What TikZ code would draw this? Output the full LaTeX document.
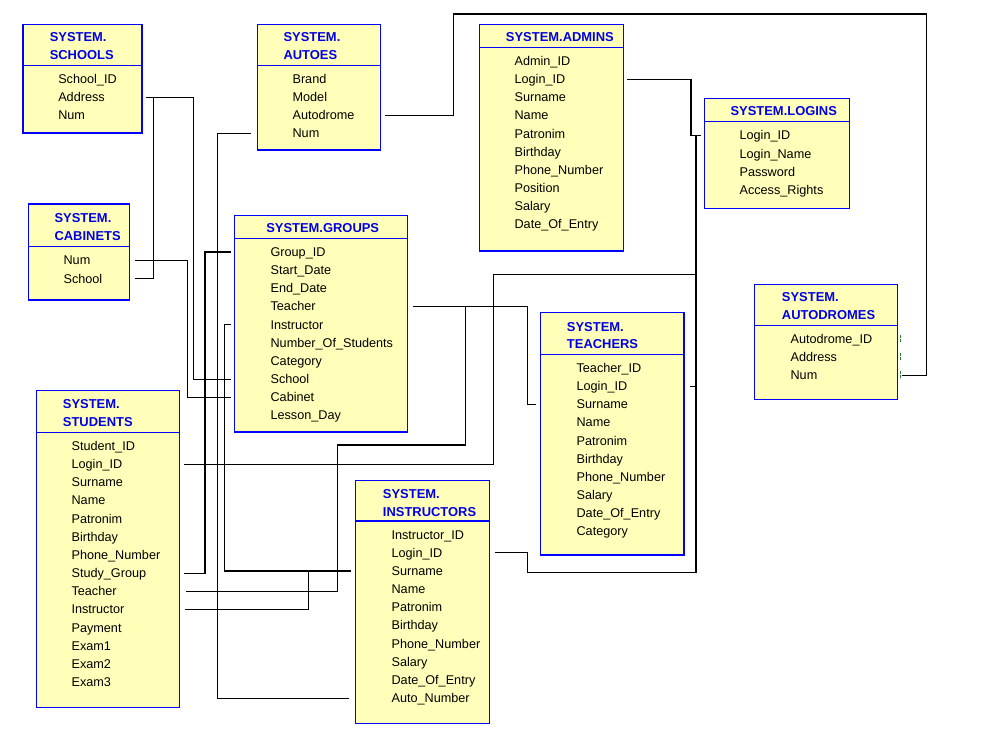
\documentclass[tikz,border=0pt]{standalone}
\usepackage{fontspec}
\setmainfont{Liberation Sans}
\usetikzlibrary{calc,fit}

\definecolor{erfill}{RGB}{255,255,185}
\definecolor{erblue}{RGB}{0,0,255}
\definecolor{ertitle}{RGB}{0,0,230}
\definecolor{erkey}{RGB}{40,130,40}

\tikzset{
  entity/.style={draw=erblue, fill=erfill, line width=1.1pt, inner sep=0pt, rectangle},
  entity rule/.style={draw=erblue, line width=1pt},
  field/.style={font=\fontsize{9.5}{11}\selectfont, inner sep=0pt, anchor=west,
                text height=6.8pt, text depth=0pt},
  title/.style={field, font=\fontsize{9.7}{11}\selectfont\bfseries, text=ertitle},
  link/.style={draw=black, line width=0.8pt},
  keytick/.style={draw=erkey, line width=0.8pt, dash pattern=on 2pt off 1pt},
}

% table frame: name, left, top, right, bottom, header rule
\newcommand\erbox[6]{%
  \node[entity, fit={(#2,#3) (#4,#5)}] (#1) {};
  \draw[entity rule] (#2,#6) -- (#4,#6);
}
% title lines: name, x, first y, lines
\newcommand\ertitle[4]{%
  \foreach \ttl [count=\idx] in {#4}
    \node[title] (#1-title\idx) at (#2,{#3+17.7*(\idx-1)}) {\ttl};
}
% column rows: name, x, first y, fields
\newcommand\erfields[4]{%
  \foreach \fld [count=\idx] in {#4}
    \node[field] (#1-\idx) at (#2,{#3+18.15*(\idx-1)}) {\fld};
}

\begin{document}
\begin{tikzpicture}[x=0.75pt,y=-0.75pt]
\useasboundingbox[fill=white] (0,0) rectangle (988,745);

% ---- tables ----
\erbox{sch}{23}{24.3}{142}{133}{65.3}
\ertitle{sch}{49.5}{37}{SYSTEM.,SCHOOLS}
\erfields{sch}{58}{79}{School\_ID,Address,Num}

\erbox{cab}{28.3}{204}{129.3}{300}{246.7}
\ertitle{cab}{54.3}{218}{SYSTEM.,CABINETS}
\erfields{cab}{63.3}{260.4}{Num,School}

\erbox{aut}{257.3}{24.3}{380.3}{150}{65.3}
\ertitle{aut}{283.3}{37}{SYSTEM.,AUTOES}
\erfields{aut}{292.3}{79}{Brand,Model,Autodrome,Num}

\erbox{adm}{479.3}{24.3}{623.3}{251}{47.3}
\ertitle{adm}{505.7}{36.7}{SYSTEM.ADMINS}
\erfields{adm}{514.3}{61}{Admin\_ID,Login\_ID,Surname,Name,Patronim,Birthday,Phone\_Number,Position,Salary,Date\_Of\_Entry}

\erbox{log}{704.3}{98.3}{849.3}{208.3}{121.7}
\ertitle{log}{730.3}{110.7}{SYSTEM.LOGINS}
\erfields{log}{739.3}{135.4}{Login\_ID,Login\_Name,Password,Access\_Rights}

\erbox{adr}{754.3}{284.3}{897.7}{399.3}{325.3}
\ertitle{adr}{781.7}{297.3}{SYSTEM.,AUTODROMES}
\erfields{adr}{790.3}{339}{Autodrome\_ID,Address,Num}

\erbox{grp}{234.7}{215.3}{407.3}{432}{238.3}
\ertitle{grp}{266}{228}{SYSTEM.GROUPS}
\erfields{grp}{270.3}{252}{Group\_ID,Start\_Date,End\_Date,Teacher,Instructor,Number\_Of\_Students,Category,School,Cabinet,Lesson\_Day}

\erbox{tea}{540.7}{312.3}{684}{555}{354.3}
\ertitle{tea}{566.7}{326.7}{SYSTEM.,TEACHERS}
\erfields{tea}{576.3}{368}{Teacher\_ID,Login\_ID,Surname,Name,Patronim,Birthday,Phone\_Number,Salary,Date\_Of\_Entry,Category}

\erbox{stu}{36.3}{390.3}{179.3}{707.3}{432.3}
\ertitle{stu}{62.7}{404.3}{SYSTEM.,STUDENTS}
\erfields{stu}{71.3}{446}{Student\_ID,Login\_ID,Surname,Name,Patronim,Birthday,Phone\_Number,Study\_Group,Teacher,Instructor,Payment,Exam1,Exam2,Exam3}

\erbox{ins}{355.7}{480.7}{489.3}{723.3}{521}
\ertitle{ins}{382.7}{494.3}{SYSTEM.,INSTRUCTORS}
\erfields{ins}{391.3}{534.7}{Instructor\_ID,Login\_ID,Surname,Name,Patronim,Birthday,Phone\_Number,Salary,Date\_Of\_Entry,Auto\_Number}

% ---- relationships ----
% cabinets.School -> schools.Address
\draw[link] ($(cab.east|-cab-2)+(4.7,0)$) -| ($(sch.east|-sch-2)+(10.3,0)$) -- ($(sch.east|-sch-2)+(3.3,0)$);
% schools.Address -> groups.School
\draw[link] ($(sch.east|-sch-2)+(3.3,0)$) -| ($(grp.west|-grp-8)+(-40.4,0)$) -- ($(grp.west|-grp-8)+(-3,0)$);
% cabinets.Num -> groups.Cabinet
\draw[link] ($(cab.east|-cab-1)+(4.7,0)$) -| ($(grp.west|-grp-9)+(-46.4,0)$) -- ($(grp.west|-grp-9)+(-3,0)$);
% autoes.Num -> instructors.Auto_Number
\draw[link] ($(aut.west|-aut-4)+(-5.6,0)$) -| ($(ins.west|-ins-10)+(-137.4,0)$) -- ($(ins.west|-ins-10)+(-5.7,0)$);
% students.Study_Group -> groups.Group_ID
\draw[link] ($(stu.east|-stu-8)+(4,0)$) -| ($(grp.west|-grp-1)+(-29,0)$) -- ($(grp.west|-grp-1)+(-3,0)$);
% groups.Instructor -> instructors
\draw[link] ($(grp.west|-grp-5)+(-3,0)$) -| ($(ins.west|-ins-3)+(-130.7,0)$) -- ($(ins.west|-ins-3)+(-4,0)$);
% students.Instructor joins the instructors line
\draw[link] ($(stu.east|-stu-10)+(4.7,0)$) -| ($(ins.west|-ins-3)+(-46.4,0)$);
% groups.Teacher -> teachers
\draw[link] ($(grp.east|-grp-4)+(5,0)$) -| ($(tea.west|-tea-3)+(-12.4,0)$) -- ($(tea.west|-tea-3)+(-4,0)$);
% students.Teacher joins the teachers line
\coordinate (tjog) at (337.3,445);
\draw[link] ($(stu.east|-stu-9)+(5.7,0)$) -| (tjog) -| ($(grp.east|-grp-4)+(57,0)$);
% Login_ID bus into logins
\coordinate (bus) at ($(log.west|-log-1)+(-7.6,0)$);
\coordinate (ijog) at (527.7,572.3);
\coordinate (sjog) at (493.3,274.3);
\draw[link] ($(adm.east|-adm-2)+(3.4,0)$) -| ($(log.west|-log-1)+(-12.6,0)$) -- ($(log.west|-log-1)+(-2.6,0)$);
\draw[link] ($(ins.east|-ins-2)+(5,0)$) -| (ijog) -| (bus);
\draw[link] ($(stu.east|-stu-2)+(4,0)$) -| (sjog) -- (bus |- sjog);
\draw[link] ($(tea.east|-tea-2)+(5.3,0)$) -- (bus |- tea-2);
% autoes.Autodrome -> autodromes.Num
\coordinate (ajog) at (453.3,14);
\coordinate (rjog) at (926.5,14);
\draw[link] ($(aut.east|-aut-3)+(3.7,0)$) -| (ajog) -- (rjog) |- ($(adr.east|-adr-3)+(3.3,0)$);
% key marks on autodromes
\foreach \idx in {1,2,3}
  \draw[keytick] ($(adr.east|-adr-\idx)+(1.8,-4)$) -- ++(0,8);
\end{tikzpicture}
\end{document}
